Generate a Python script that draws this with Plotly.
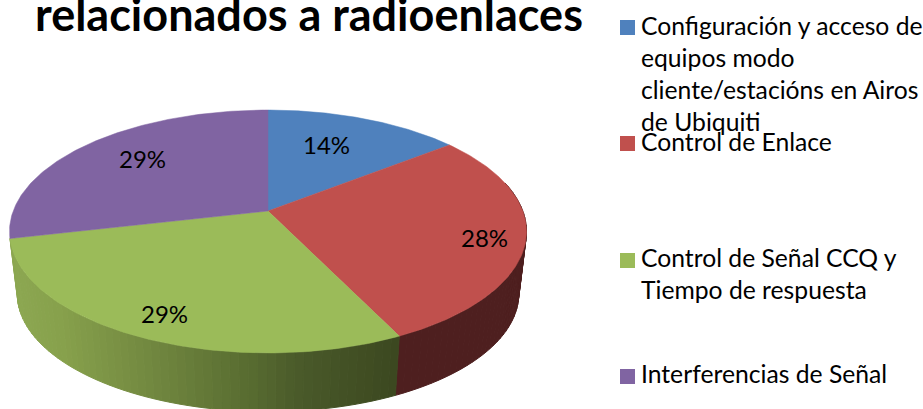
import numpy as np
import plotly.graph_objects as go

title_text = "relacionados a radioenlaces"
categories = ["Configuración y acceso de<br>equipos modo<br>cliente/estacións en Airos<br>de Ubiquiti",
              "Control de Enlace",
              "Control de Señal CCQ y<br>Tiempo de respuesta",
              "Interferencias de Señal"]
values = [14.4, 28.4, 28.6, 28.6]
value_labels = ["14%", "28%", "29%", "29%"]
colors = ["#4F81BD", "#C0504D", "#9BBB59", "#8064A2"]

FONT = "Lato, Carlito, Calibri, sans-serif"
CX, CY, A, B, K = 268.0, 211.0, 254.8, 118.0, -0.1687
SHRINK, DEPTH = 0.97, 63.0


def rim(theta):
    u, v = np.sin(theta), -np.cos(theta)
    d = 1 + K * v
    return CX + A * u / d, CY + B * v / d


def lower(x, y):
    return CX + (x - CX) * SHRINK, CY + (y - CY) * SHRINK + DEPTH


def side_color(i, x):
    if i == 1:
        return "#4E1F1F"
    xs = [10, 60, 150, 250, 300, 400]
    rr = [0x8D, 0x87, 0x72, 0x58, 0x4A, 0x3C]
    gg = [0xA8, 0xA1, 0x88, 0x6C, 0x5A, 0x48]
    bb = [0x52, 0x4C, 0x40, 0x31, 0x2A, 0x20]
    return "rgb(%d,%d,%d)" % (np.interp(x, xs, rr), np.interp(x, xs, gg), np.interp(x, xs, bb))


fracs = np.cumsum([0] + values) / sum(values) * 2 * np.pi
fig = go.Figure()

# Visible wall of the red and green slices, drawn as narrow strips to carry the shading
for i in (1, 2):
    a0, a1 = fracs[i], fracs[i + 1]
    lo, hi = max(a0, np.pi / 2 - 0.25), a1
    edges = np.linspace(lo, hi, max(2, int((hi - lo) / 0.03)) + 1)
    for e0, e1 in zip(edges[:-1], edges[1:]):
        t = np.array([e0, e1])
        x, y = rim(t)
        xl, yl = lower(x, y)
        c = side_color(i, x.mean())
        fig.add_trace(go.Scatter(
            x=np.r_[x, xl[::-1], x[0]], y=np.r_[y, yl[::-1], y[0]],
            mode="lines", fill="toself", fillcolor=c,
            line=dict(color=c, width=1), hoverinfo="skip", showlegend=False))

# Top face of each slice
for i in range(len(values)):
    t = np.linspace(fracs[i], fracs[i + 1], 120)
    x, y = rim(t)
    fig.add_trace(go.Scatter(
        x=np.r_[CX, x, CX], y=np.r_[CY, y, CY],
        mode="lines", fill="toself", fillcolor=colors[i],
        line=dict(color=colors[i], width=0.5),
        name=value_labels[i], showlegend=False))

# Legend keys
key_y = [27.5, 143.5, 260.5, 376.5]
fig.add_trace(go.Scatter(
    x=[627.5] * 4, y=key_y, mode="markers",
    marker=dict(symbol="square", size=15, color=colors, line=dict(width=0)),
    hoverinfo="skip", showlegend=False))

annotations = [dict(x=309, y=32, text="<b>%s</b>" % title_text, showarrow=False,
                    xanchor="center", yanchor="bottom", yshift=-11,
                    font=dict(family=FONT, size=45, color="#000000"))]
label_xy = [(326, 144), (484, 237), (164, 313), (142, 158)]
for (lx, ly), txt in zip(label_xy, value_labels):
    annotations.append(dict(x=lx, y=ly, text=txt, showarrow=False,
                            font=dict(family=FONT, size=24, color="#000000")))
legend_top = [8.5, 125, 241, 357]
for top, cat in zip(legend_top, categories):
    annotations.append(dict(x=638.5, y=top, text=cat, showarrow=False, align="left",
                            xanchor="left", yanchor="top",
                            font=dict(family=FONT, size=24.7, color="#000000")))

fig.update_layout(
    width=923, height=409, margin=dict(l=0, r=0, t=0, b=0),
    paper_bgcolor="white", plot_bgcolor="white", showlegend=False,
    xaxis=dict(range=[0, 923], visible=False, fixedrange=True),
    yaxis=dict(range=[409, 0], visible=False, fixedrange=True),
    annotations=annotations,
)
fig.write_html("out.html", config=dict(displayModeBar=False),
               post_script="document.body.style.margin='0';document.documentElement.style.overflow='hidden';")
